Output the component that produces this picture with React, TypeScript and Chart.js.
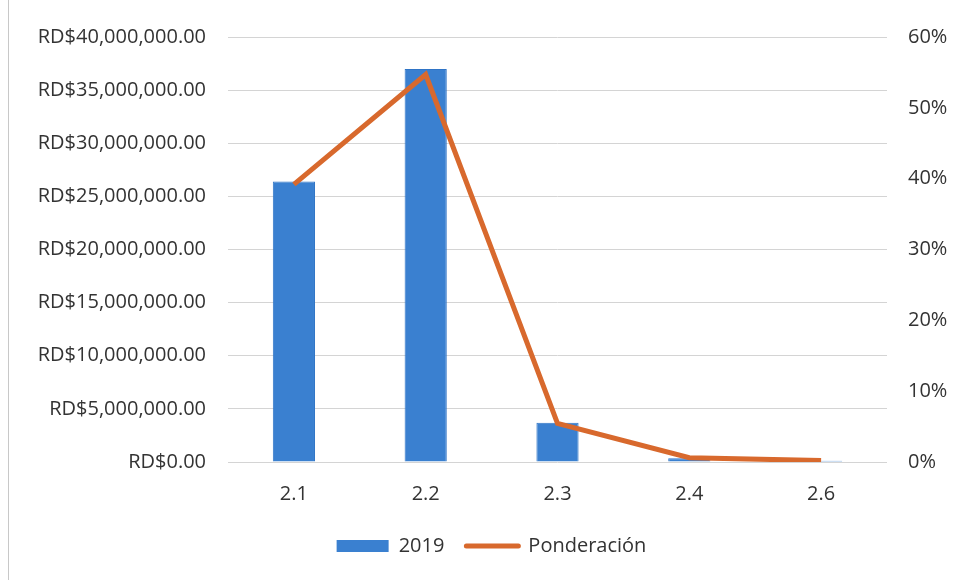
import React, { useEffect, useRef } from "react";
import { Chart, registerables } from "chart.js";

Chart.register(...registerables);

const categories = ["2.1", "2.2", "2.3", "2.4", "2.6"];
const montos2019 = [26400000, 37000000, 3700000, 350000, 120000];
const ponderacion = [0.392, 0.547, 0.0546, 0.006, 0.002];
const barLabel = "2019";
const lineLabel = "Ponderación";

const FONT = "'Open Sans', sans-serif";
const FS = 20;
const TEXT = "#333333";
const BLUE = "#3a80d0";
const ORANGE = "#d8692d";

const shiftLegend = {
  id: "shiftLegend",
  afterLayout(c: any) {
    if (c.legend) {
      c.legend.left += 14;
      c.legend.right += 14;
    }
  },
};

export default function App() {
  const ref = useRef<HTMLCanvasElement | null>(null);

  useEffect(() => {
    if (!ref.current) return;
    const chart = new Chart(ref.current, {
      type: "bar",
      plugins: [shiftLegend],
      data: {
        labels: categories,
        datasets: [
          {
            type: "line",
            label: lineLabel,
            data: ponderacion,
            yAxisID: "y1",
            borderColor: ORANGE,
            backgroundColor: ORANGE,
            borderWidth: 5,
            pointRadius: 0,
            tension: 0,
            order: 0,
          } as any,
          {
            type: "bar",
            label: barLabel,
            data: montos2019,
            yAxisID: "y",
            backgroundColor: BLUE,
            borderColor: "#2f74c6",
            borderWidth: 1,
            categoryPercentage: 1,
            barPercentage: 0.32,
            order: 1,
          } as any,
        ],
      },
      options: {
        animation: false,
        responsive: false,
        maintainAspectRatio: false,
        layout: { padding: { top: 37, bottom: 14, left: 0, right: 0 } },
        plugins: {
          tooltip: { enabled: false },
          legend: {
            position: "bottom",
            labels: {
              font: { family: FONT, size: FS },
              color: TEXT,
              usePointStyle: true,
              pointStyleWidth: 52,
              boxHeight: 12,
              padding: 22,
              generateLabels: (c: any) => {
                const ds = c.data.datasets;
                return [
                  {
                    text: ds[1].label,
                    fillStyle: BLUE,
                    strokeStyle: BLUE,
                    lineWidth: 0,
                    pointStyle: "rect",
                    datasetIndex: 1,
                    hidden: false,
                    fontColor: TEXT,
                  },
                  {
                    text: ds[0].label,
                    fillStyle: ORANGE,
                    strokeStyle: ORANGE,
                    lineWidth: 5,
                    lineCap: "round",
                    pointStyle: "line",
                    datasetIndex: 0,
                    hidden: false,
                    fontColor: TEXT,
                  },
                ];
              },
            },
          },
        },
        scales: {
          x: {
            grid: { display: false, drawTicks: false },
            border: { display: false },
            ticks: { font: { family: FONT, size: FS }, color: TEXT, padding: 20 },
            afterFit: (s: any) => {
              s.height = 52;
            },
          },
          y: {
            position: "left",
            min: 0,
            max: 40000000,
            grid: { color: "#d4d4d4", lineWidth: 1, drawTicks: false },
            border: { display: false },
            ticks: {
              stepSize: 5000000,
              autoSkip: false,
              padding: 22,
              font: { family: FONT, size: FS },
              color: TEXT,
              callback: (v: any) =>
                "RD$" +
                Number(v).toLocaleString("en-US", {
                  minimumFractionDigits: 2,
                  maximumFractionDigits: 2,
                }),
            },
            afterFit: (s: any) => {
              s.width = 228;
            },
          },
          y1: {
            position: "right",
            min: 0,
            max: 0.6,
            grid: { drawOnChartArea: false, drawTicks: false },
            border: { display: false },
            ticks: {
              stepSize: 0.1,
              autoSkip: false,
              padding: 21,
              font: { family: FONT, size: FS },
              color: TEXT,
              callback: (v: any) => Math.round(Number(v) * 100) + "%",
            },
            afterFit: (s: any) => {
              s.width = 68;
            },
          },
        },
      },
    });
    return () => chart.destroy();
  }, []);

  return (
    <div style={{ position: "fixed", left: 0, top: 0, width: 955, height: 580, background: "#fff" }}>
      <div style={{ position: "absolute", left: 8, top: 0, width: 1, height: 580, background: "#c8c8c8" }} />
      <canvas ref={ref} width={955} height={580} style={{ position: "absolute", left: 0, top: 0 }} />
    </div>
  );
}
